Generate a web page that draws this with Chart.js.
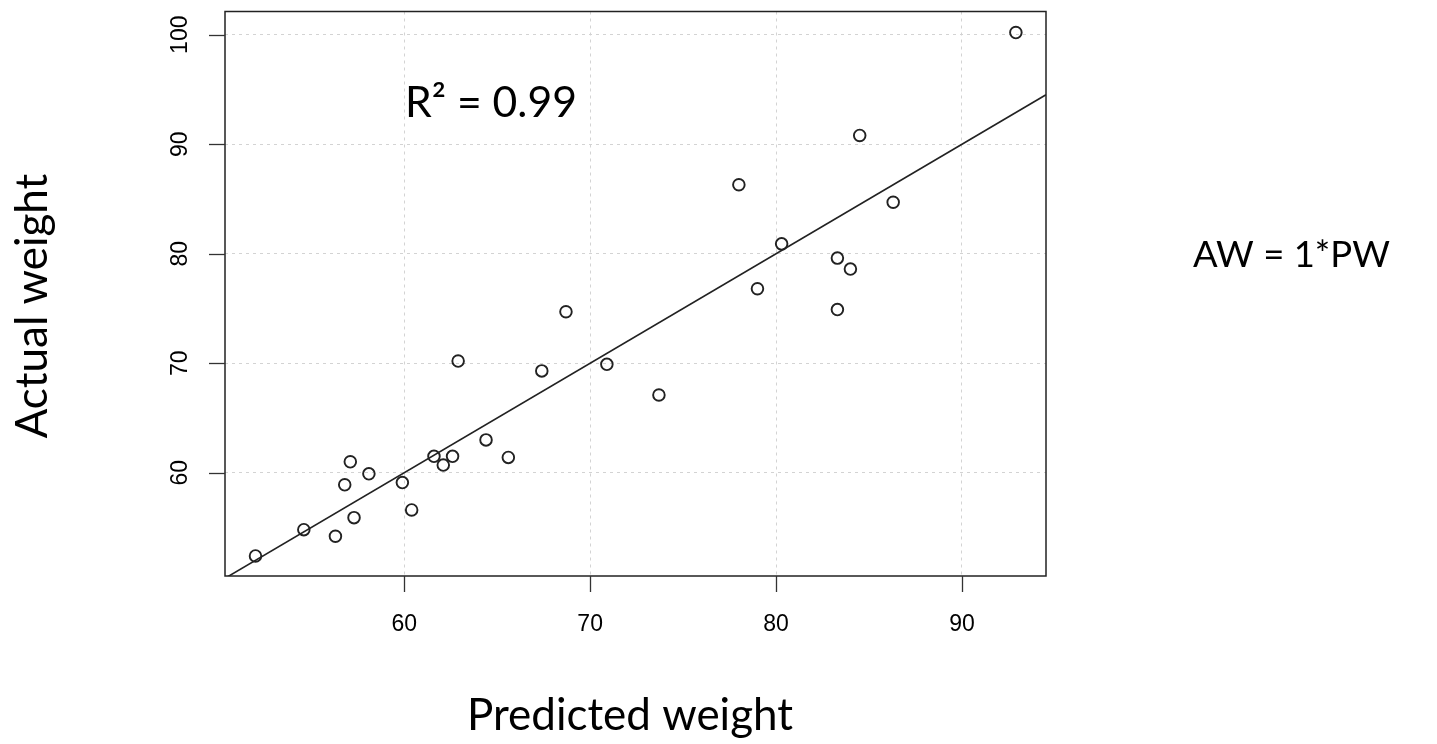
<!DOCTYPE html>
<html>
<head>
<meta charset="utf-8">
<script src="https://cdn.jsdelivr.net/npm/chart.js@4.4.1/dist/chart.umd.min.js"></script>
<style>
  html, body { margin: 0; padding: 0; background: #fff; }
  #wrap { width: 1437px; height: 744px; position: relative; }
</style>
</head>
<body>
<div id="wrap"><canvas id="c" width="1437" height="744"></canvas></div>
<script>
// ---- data ----
const predictedWeight = [52.0, 54.6, 56.3, 57.3, 56.8, 57.1, 58.1, 59.9, 60.4, 61.6,
                         62.1, 62.6, 62.9, 64.4, 65.6, 67.4, 68.7, 70.9, 73.7, 79.0,
                         83.3, 92.9, 84.5, 78.0, 86.3, 80.3, 83.3, 84.0];
const actualWeight    = [52.4, 54.8, 54.2, 55.9, 58.9, 61.0, 59.9, 59.1, 56.6, 61.5,
                         60.7, 61.5, 70.2, 63.0, 61.4, 69.3, 74.7, 69.9, 67.1, 76.8,
                         74.9, 100.2, 90.8, 86.3, 84.7, 80.9, 79.6, 78.6];
const xTicks = [60, 70, 80, 90];
const yTicks = [60, 70, 80, 90, 100];
const xRange = [50.36, 94.52];
const yRange = [50.57, 102.12];
const fitSlope = 1; // AW = 1*PW
const xTitle = 'Predicted weight';
const yTitle = 'Actual weight';
const r2Text = 'R\u00B2 = 0.99';
const eqText = 'AW = 1*PW';

const points = predictedWeight.map((x, i) => ({ x: x, y: actualWeight[i] }));
const fitLine = xRange.map(x => ({ x: x, y: fitSlope * x }));

function fitFontSize(ctx, text, family, targetWidth) {
  ctx.font = '100px ' + family;
  const w = ctx.measureText(text).width;
  return 100 * targetWidth / w;
}

const decorPlugin = {
  id: 'decor',
  afterDraw(chart) {
    const ctx = chart.ctx;
    const a = chart.chartArea;
    const xs = chart.scales.x, ys = chart.scales.y;
    ctx.save();
    // box
    ctx.strokeStyle = '#222';
    ctx.lineWidth = 1.5;
    ctx.strokeRect(a.left, a.top, a.right - a.left, a.bottom - a.top);
    // ticks
    ctx.lineWidth = 1.3;
    ctx.strokeStyle = '#333';
    const tl = 16;
    xTicks.forEach(v => {
      const px = Math.round(xs.getPixelForValue(v)) + 0.5;
      ctx.beginPath(); ctx.moveTo(px, a.bottom); ctx.lineTo(px, a.bottom + tl); ctx.stroke();
    });
    yTicks.forEach(v => {
      const py = Math.round(ys.getPixelForValue(v)) + 0.5;
      ctx.beginPath(); ctx.moveTo(a.left, py); ctx.lineTo(a.left - tl, py); ctx.stroke();
    });
    // tick labels
    ctx.fillStyle = '#000';
    ctx.font = '23px "Liberation Sans", Arial, sans-serif';
    ctx.textAlign = 'center';
    ctx.textBaseline = 'middle';
    xTicks.forEach(v => {
      ctx.fillText(String(v), xs.getPixelForValue(v), a.bottom + 49);
    });
    yTicks.forEach(v => {
      ctx.save();
      ctx.translate(a.left - 44, ys.getPixelForValue(v));
      ctx.rotate(-Math.PI / 2);
      ctx.fillText(String(v), 0, 0);
      ctx.restore();
    });
    // titles and annotations
    ctx.fillStyle = '#000';
    const fam = 'Lato, "Open Sans", sans-serif';
    const tSize = fitFontSize(ctx, xTitle, fam, 326);
    ctx.font = tSize.toFixed(2) + 'px ' + fam;
    ctx.textAlign = 'center';
    ctx.textBaseline = 'alphabetic';
    ctx.fillText(xTitle, 630, 730);
    ctx.save();
    ctx.translate(47, 306);
    ctx.rotate(-Math.PI / 2);
    ctx.fillText(yTitle, 0, 0);
    ctx.restore();

    const rSize = fitFontSize(ctx, r2Text, fam, 172);
    ctx.font = rSize.toFixed(2) + 'px ' + fam;
    ctx.textAlign = 'left';
    ctx.fillText(r2Text, 405, 117);

    const eSize = fitFontSize(ctx, eqText, fam, 197);
    ctx.font = eSize.toFixed(2) + 'px ' + fam;
    ctx.fillText(eqText, 1193, 267);
    ctx.restore();
  }
};

const zeroSize = s => { if (s.isHorizontal()) s.height = 0; else s.width = 0; };

new Chart(document.getElementById('c'), {
  type: 'scatter',
  data: {
    datasets: [
      {
        type: 'line',
        data: fitLine,
        borderColor: '#222',
        borderWidth: 1.6,
        pointRadius: 0,
        fill: false,
        order: 2
      },
      {
        data: points,
        pointStyle: 'circle',
        pointRadius: 5.8,
        pointBorderWidth: 1.9,
        borderColor: '#222',
        backgroundColor: 'rgba(0,0,0,0)',
        pointBackgroundColor: 'rgba(0,0,0,0)',
        order: 1
      }
    ]
  },
  options: {
    responsive: false,
    animation: false,
    events: [],
    layout: { padding: { left: 225, top: 11.5, right: 391, bottom: 168 } },
    plugins: { legend: { display: false }, tooltip: { enabled: false }, title: { display: false } },
    scales: {
      x: {
        type: 'linear',
        min: xRange[0], max: xRange[1],
        afterBuildTicks: s => { s.ticks = xTicks.map(v => ({ value: v })); },
        afterFit: zeroSize,
        ticks: { display: false },
        border: { display: false, dash: [3, 4] },
        grid: { color: '#d3d3d3', lineWidth: 1, drawTicks: false },
        title: { display: false }
      },
      y: {
        type: 'linear',
        min: yRange[0], max: yRange[1],
        afterBuildTicks: s => { s.ticks = yTicks.map(v => ({ value: v })); },
        afterFit: zeroSize,
        ticks: { display: false },
        border: { display: false, dash: [3, 4] },
        grid: { color: '#d3d3d3', lineWidth: 1, drawTicks: false },
        title: { display: false }
      }
    }
  },
  plugins: [decorPlugin]
});
</script>
</body>
</html>
